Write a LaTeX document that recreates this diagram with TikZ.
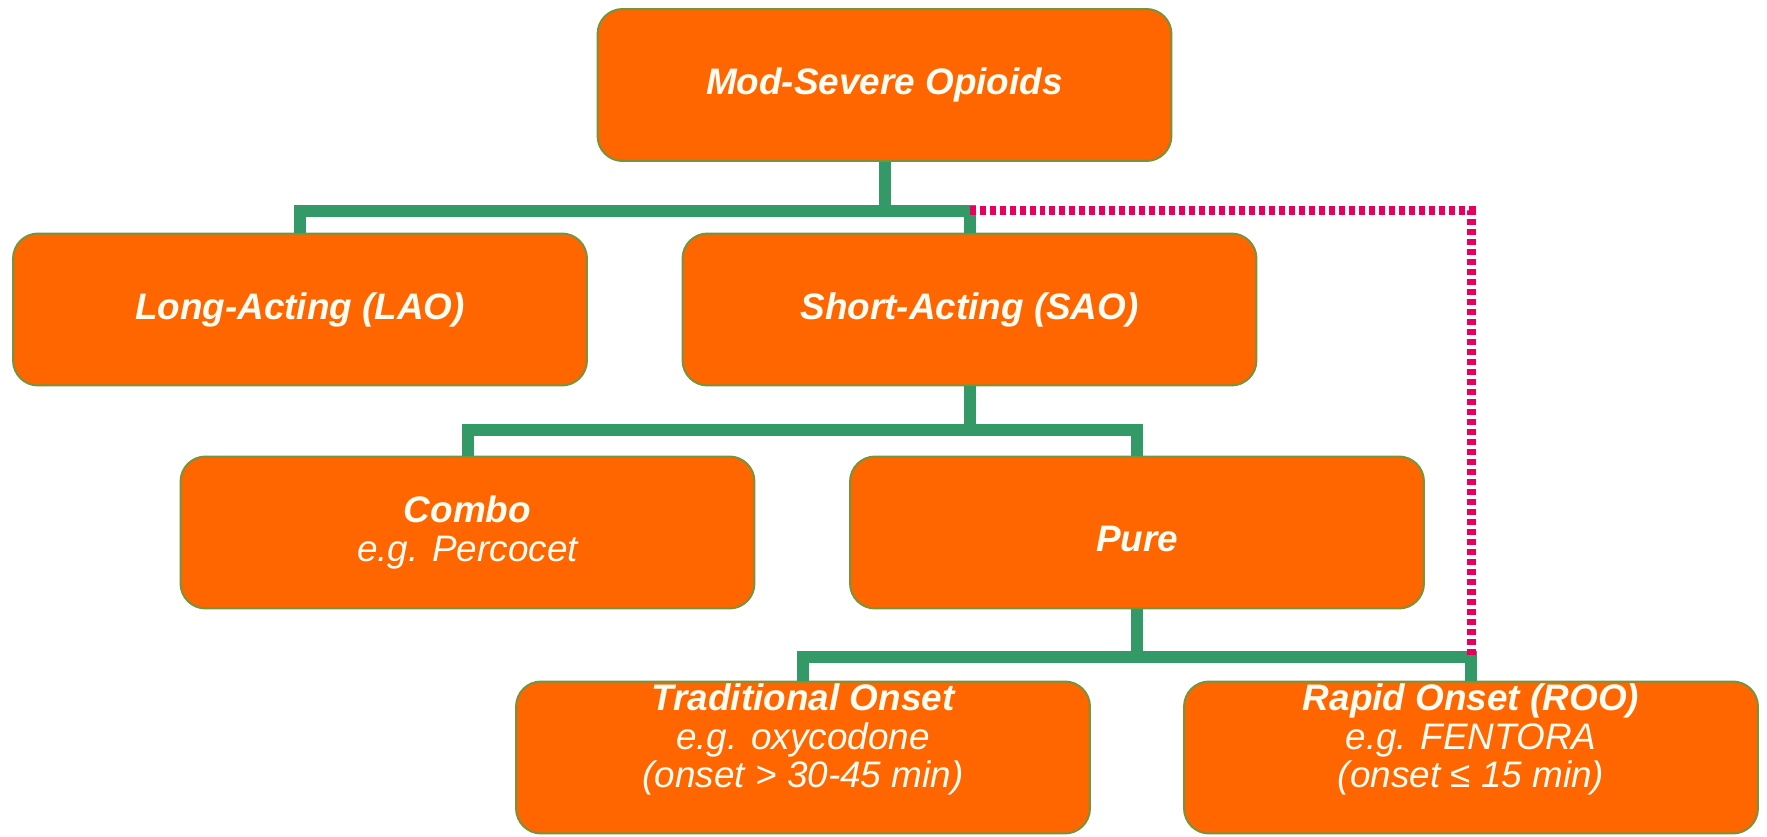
\documentclass[tikz,border=0pt]{standalone}
\usepackage{fontspec}
\setmainfont{Liberation Sans}
\usetikzlibrary{positioning}
\definecolor{boxorange}{HTML}{FF6600}
\definecolor{linkgreen}{HTML}{339966}
\definecolor{edgegreen}{HTML}{77933C}
\definecolor{linkpink}{HTML}{E8005F}
\definecolor{txtwhite}{HTML}{FFFCF2}

\tikzset{
  drugbox/.style={draw=edgegreen,line width=0.04cm,fill=boxorange,
    rounded corners=0.5cm,minimum width=11.48cm,minimum height=3.04cm,
    text=txtwhite,align=center,font=\fontsize{21}{22}\selectfont\itshape},
  boxtext/.style={text=txtwhite,align=center,font=\fontsize{21}{22}\selectfont\itshape},
  link/.style={draw=linkgreen,line width=0.24cm},
  rollover/.style={draw=linkpink,line width=0.18cm,dash pattern=on 0.12cm off 0.08cm}
}

\begin{document}
\begin{tikzpicture}[x=0.02cm,y=-0.02cm]
  \useasboundingbox (0,0) rectangle (1767,837);
  %\draw[help lines,step=100](0,0) grid (1767,837);

  % boxes
  \node[drugbox] (mod)   at (884.5,85)  {\textbf{Mod-Severe Opioids}};
  \node[drugbox] (lao)   at (300,309.5) {\textbf{Long-Acting (LAO)}};
  \node[drugbox] (sao)   at (969.5,309.5) {\textbf{Short-Acting (SAO)}};
  \node[drugbox] (combo) at (467.5,532.5) {\textbf{Combo}\\e.g. Percocet};
  \node[drugbox] (pure)  at (1137,532.5) {\raisebox{-0.12cm}[\height][\depth]{\textbf{Pure}}};
  \node[drugbox] (trad)  at (803,757.5)  {};
  \node[drugbox] (rapid) at (1471,757.5) {};

  % branch points
  \coordinate (j1) at (884.5,211);
  \coordinate (j2) at (969.5,430);
  \coordinate (j3) at (1137,657);

  % tree
  \path[link] (mod.south) -- (mod.south |- j1);
  \path[link] (lao.north) -- (lao.north |- j1) -- (sao.north |- j1) -- (sao.north);
  \path[link] (sao.south) -- (sao.south |- j2);
  \path[link] (combo.north) -- (combo.north |- j2) -- (pure.north |- j2) -- (pure.north);
  \path[link] (pure.south) -- (pure.south |- j3);
  \path[link] (trad.north) -- (trad.north |- j3) -- (rapid.north |- j3) -- (rapid.north);

  % dotted short-cut
  \path[rollover] (sao.north |- j1) -- (rapid.north |- j1) -- (rapid.north |- j3);

  % text of the two lower boxes
  \node[boxtext] (tradtxt)  at ([yshift=0.36cm]trad.center)
    {\textbf{Traditional Onset}\\e.g. oxycodone\\(onset > 30-45 min)};
  \node[boxtext] (rapidtxt) at ([yshift=0.36cm]rapid.center)
    {\textbf{Rapid Onset (ROO)}\\e.g. FENTORA\\(onset ≤ 15 min)};
\end{tikzpicture}
\end{document}
